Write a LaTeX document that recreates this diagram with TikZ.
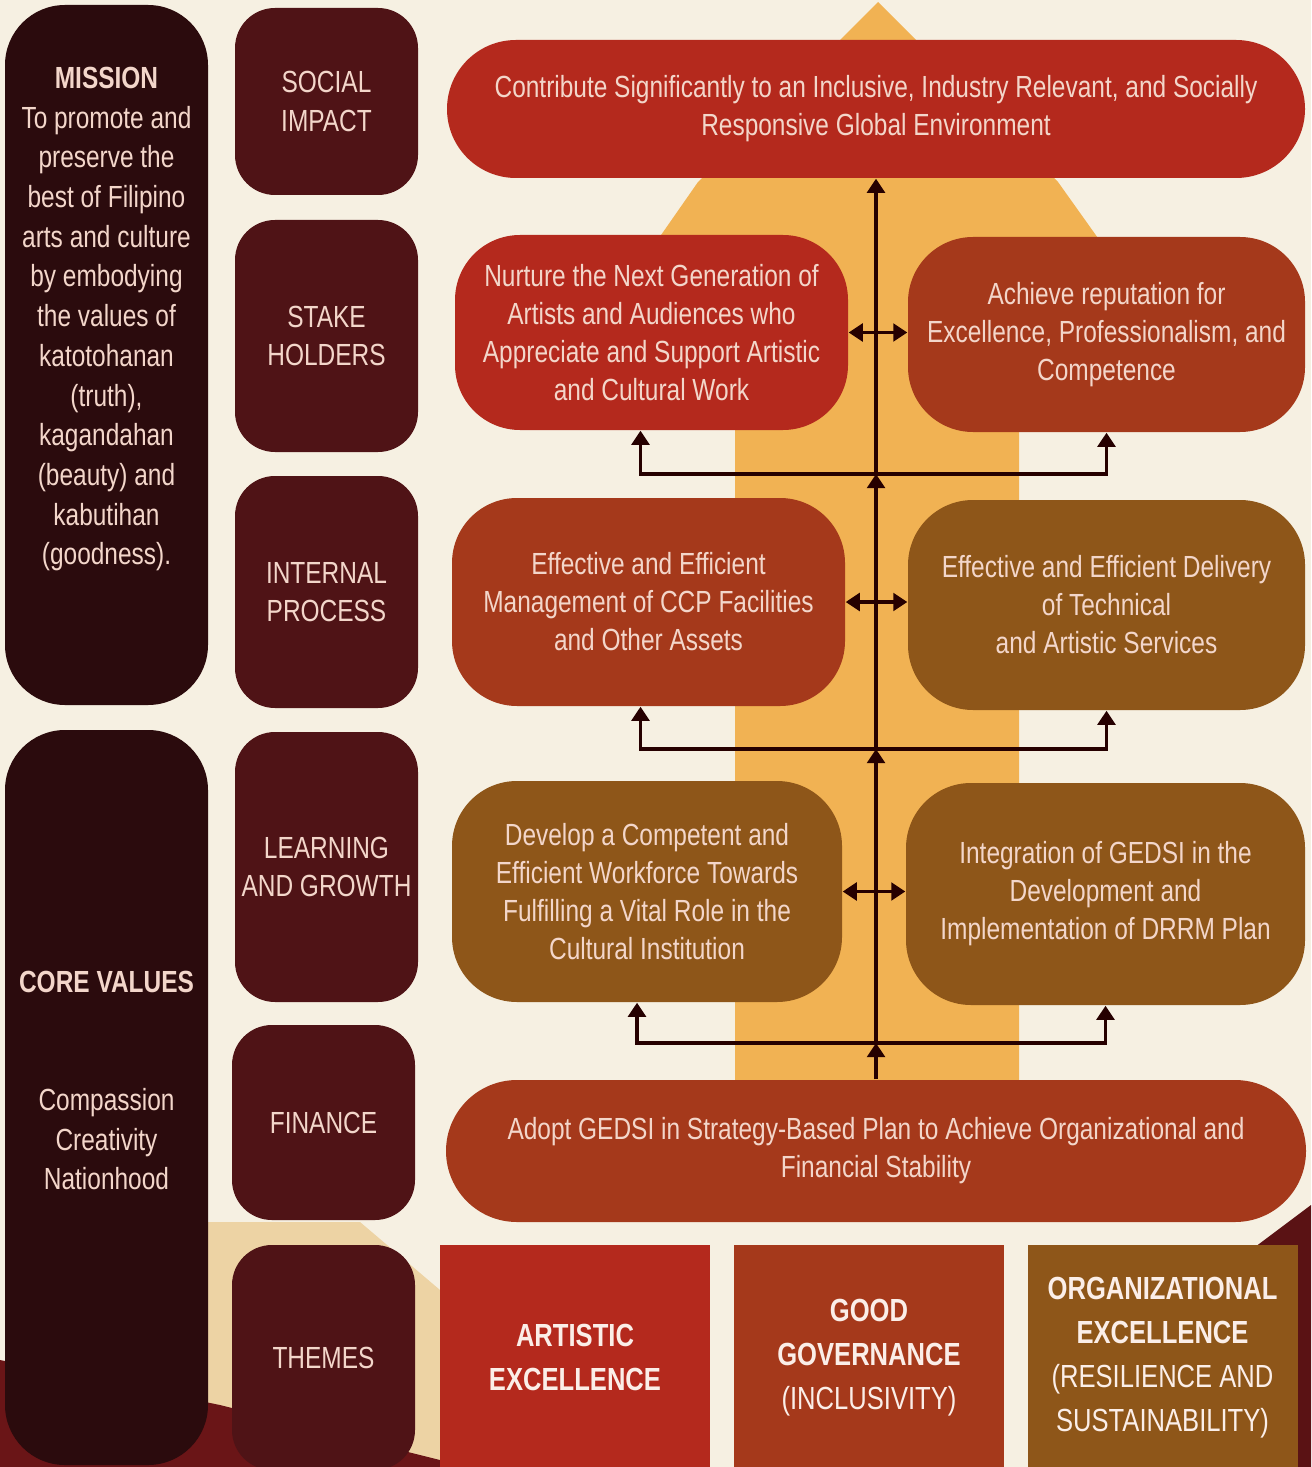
\documentclass[tikz,border=0pt]{standalone}
\usepackage{fontspec}
\setmainfont{Liberation Sans}[FakeStretch=0.80]
\usetikzlibrary{arrows.meta}

\definecolor{cream}{HTML}{F6F0E2}
\definecolor{arrowgold}{HTML}{F1B253}
\definecolor{tanlight}{HTML}{EDD3A4}
\definecolor{nightbrown}{HTML}{2B0B0D}
\definecolor{maroon}{HTML}{4F1316}
\definecolor{deepred}{HTML}{6A1517}
\definecolor{crimson}{HTML}{B4291D}
\definecolor{rust}{HTML}{A5391B}
\definecolor{ochre}{HTML}{8E5619}
\definecolor{pinktxt}{HTML}{F3D6CA}
\definecolor{themetxt}{HTML}{FBEEE8}

\begin{document}
\begin{tikzpicture}[
    txt/.style={text=pinktxt, align=center, inner sep=0pt,
        font={\fontsize{8.7}{10.8}\selectfont}},
    pillar/.style={fill=nightbrown, rounded corners=0.6cm,
        minimum width=2.03cm, inner sep=0pt},
    persp/.style={fill=maroon, rounded corners=0.4cm, txt,
        minimum width=1.83cm, font={\fontsize{8.7}{11}\selectfont}},
    goal/.style={rounded corners=0.65cm, txt},
    theme/.style={txt, text=themetxt, minimum width=2.7cm,
        minimum height=2.25cm, font={\fontsize{9.1}{12.5}\selectfont}},
    link/.style={draw=black!85!red, line width=1pt},
    uparrow/.style={link, -{Triangle[width=5pt,length=4pt]}},
    twoway/.style={link, {Triangle[width=5pt,length=4pt]}-{Triangle[width=5pt,length=4pt]}},
    ]

    % Background and page size
    \fill[cream] (0,0) rectangle (13.11,-14.67);
    \useasboundingbox (0,0) rectangle (13.11,-14.67);

    % Big arrow behind the goals
    \fill[arrowgold] (8.78,-0.02) -- (10.58,-1.82) -- (11.05,-2.48)
        -- (11.40,-3.00) -- (10.19,-3.00) -- (10.19,-10.90)
        -- (7.35,-10.90) -- (7.35,-3.00) -- (6.15,-3.00)
        -- (6.52,-2.48) -- (6.98,-1.82) -- cycle;

    % Floor shapes at the bottom
    \fill[tanlight] (2.05,-12.22) -- (3.6,-12.22) -- (4.4,-12.9)
        -- (4.4,-14.67) -- (2.05,-14.67) -- cycle;
    \fill[deepred] (0,-13.6) -- (2.2,-14.05) -- (4.4,-14.6)
        -- (4.4,-14.67) -- (0,-14.67) -- cycle;
    \fill[deepred!85!black] (12.55,-12.47) -- (13.11,-12.05)
        -- (13.11,-14.67) -- (12.55,-14.67) -- cycle;

    % Mission and core values
    \node[pillar, minimum height=7cm] (mission) at (1.065,-3.55) {};
    \node[txt, anchor=north, font={\fontsize{8.7}{11.3}\selectfont}]
        (missiontxt) at ([yshift=-0.62cm]mission.north)
        {\textbf{MISSION}\\To promote and\\preserve the\\best of Filipino\\
         arts and culture\\by embodying\\the values of\\katotohanan\\(truth),\\
         kagandahan\\(beauty) and\\kabutihan\\(goodness).};

    \node[pillar, minimum height=7.35cm] (core) at (1.065,-10.975) {};
    \node[txt, anchor=north, font={\fontsize{8.7}{11.2}\selectfont}]
        (coretxt) at ([yshift=-2.41cm]core.north)
        {\textbf{CORE VALUES}\\[0.79cm]Compassion\\Creativity\\Nationhood};

    % Perspectives
    \node[persp, minimum height=1.87cm] (social) at (3.265,-1.015) {SOCIAL\\IMPACT};
    \node[persp, minimum height=2.32cm] (stake) at (3.265,-3.36) {STAKE\\HOLDERS};
    \node[persp, minimum height=2.32cm] (internal) at (3.265,-5.92) {INTERNAL\\PROCESS};
    \node[persp, minimum height=2.70cm] (learning) at (3.265,-8.67) {LEARNING\\AND GROWTH};
    \node[persp, minimum height=1.95cm] (finance) at (3.235,-11.225) {FINANCE};
    \node[persp, minimum height=2.25cm] (themes) at (3.235,-13.575) {THEMES};

    % Goals
    \node[goal, fill=crimson, rounded corners=0.69cm, minimum width=8.58cm,
        minimum height=1.38cm] (top) at (8.76,-1.09)
        {Contribute Significantly to an Inclusive, Industry Relevant, and Socially\\
         Responsive Global Environment};

    \node[goal, fill=crimson, minimum width=3.93cm, minimum height=1.95cm]
        (skL) at (6.515,-3.325)
        {Nurture the Next Generation of\\Artists and Audiences who\\
         Appreciate and Support Artistic\\and Cultural Work};
    \node[goal, fill=rust, minimum width=3.97cm, minimum height=1.95cm]
        (skR) at (11.065,-3.345)
        {Achieve reputation for\\Excellence, Professionalism, and\\Competence};

    \node[goal, fill=rust, minimum width=3.93cm, minimum height=2.08cm]
        (ipL) at (6.485,-6.02)
        {Effective and Efficient\\Management of CCP Facilities\\and Other Assets};
    \node[goal, fill=ochre, minimum width=3.97cm, minimum height=2.10cm]
        (ipR) at (11.065,-6.05)
        {Effective and Efficient Delivery\\of Technical\\and Artistic Services};

    \node[goal, fill=ochre, minimum width=3.90cm, minimum height=2.21cm]
        (lgL) at (6.47,-8.915)
        {Develop a Competent and\\Efficient Workforce Towards\\
         Fulfilling a Vital Role in the\\Cultural Institution};
    \node[goal, fill=ochre, minimum width=3.99cm, minimum height=2.22cm]
        (lgR) at (11.055,-8.94)
        {Integration of GEDSI in the\\Development and\\Implementation of DRRM Plan};

    \node[goal, fill=rust, rounded corners=0.71cm, minimum width=8.60cm,
        minimum height=1.42cm] (fin) at (8.76,-11.51)
        {Adopt GEDSI in Strategy-Based Plan to Achieve Organizational and\\
         Financial Stability};

    % Themes
    \node[theme, fill=crimson] (artistic) at (5.75,-13.575)
        {\textbf{ARTISTIC}\\\textbf{EXCELLENCE}};
    \node[theme, fill=rust] (governance) at (8.69,-13.575)
        {\textbf{GOOD}\\\textbf{GOVERNANCE}\\(INCLUSIVITY)};
    \node[theme, fill=ochre] (organizational) at (11.625,-13.575)
        {\textbf{ORGANIZATIONAL}\\\textbf{EXCELLENCE}\\(RESILIENCE AND\\SUSTAINABILITY)};

    % Connectors
    \coordinate (j1) at (8.76,-10.43);
    \coordinate (j2) at (8.76,-7.49);
    \coordinate (j3) at (8.76,-4.74);

    \draw[uparrow] (fin.north) -- (j1);
    \draw[uparrow] (j1) -- (j2);
    \draw[uparrow] (j2) -- (j3);
    \draw[uparrow] (j3) -- (top.south);

    \draw[uparrow] (j1) -| ([xshift=-0.1cm]lgL.south);
    \draw[uparrow] (j1) -| (lgR.south);
    \draw[uparrow] (j2) -| ([xshift=-0.08cm]ipL.south);
    \draw[uparrow] (j2) -| (ipR.south);
    \draw[uparrow] (j3) -| ([xshift=-0.11cm]skL.south);
    \draw[uparrow] (j3) -| (skR.south);

    \draw[twoway] (skL.east) -- (skL.east -| skR.west);
    \draw[twoway] (ipL.east) -- (ipL.east -| ipR.west);
    \draw[twoway] (lgL.east) -- (lgL.east -| lgR.west);
\end{tikzpicture}
\end{document}
